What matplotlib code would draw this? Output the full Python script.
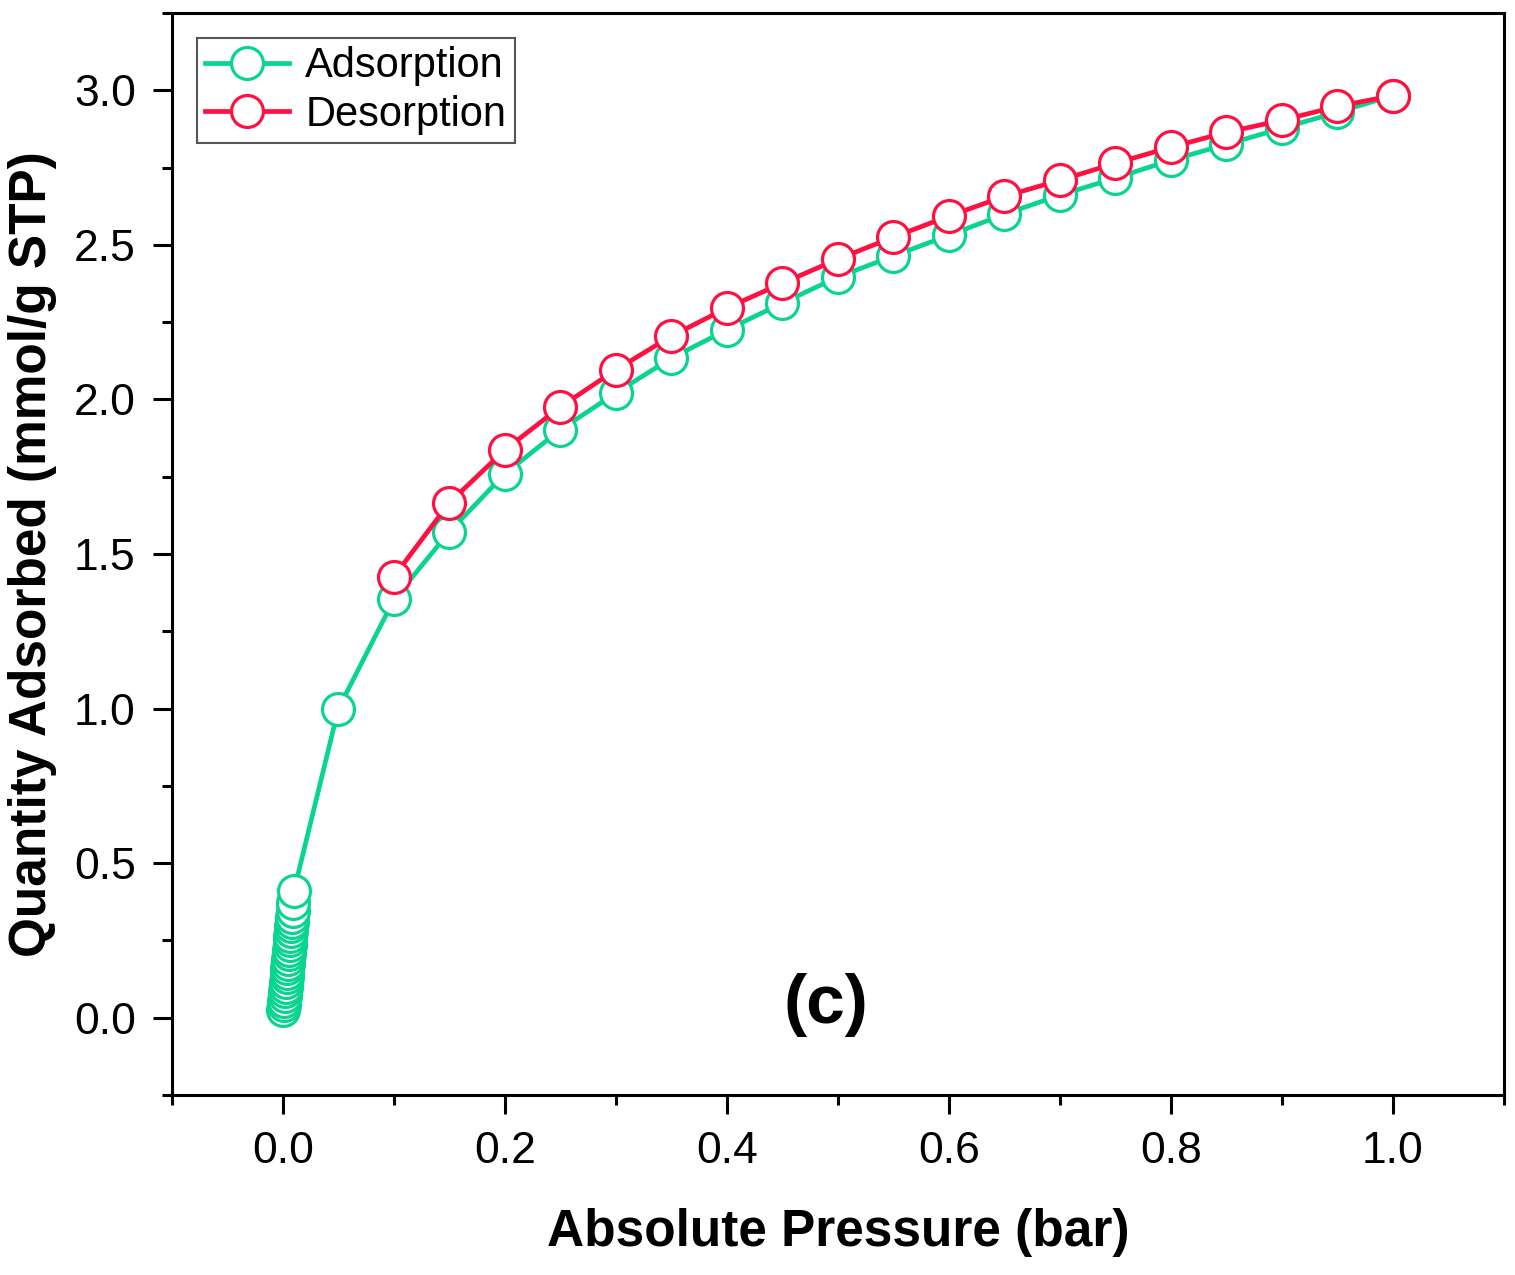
import matplotlib
matplotlib.use('Agg')
import matplotlib.pyplot as plt
from matplotlib.ticker import MultipleLocator, FormatStrFormatter

plt.rcParams['font.family'] = ['Liberation Sans', 'DejaVu Sans']

# adsorption branch: dense low-pressure points, then 0.05 bar steps
ads_p = [0.0004, 0.0008, 0.0012, 0.0016, 0.0020, 0.0024, 0.0028, 0.0032,
         0.0036, 0.0040, 0.0044, 0.0048, 0.0052, 0.0056, 0.0060, 0.0064,
         0.0068, 0.0072, 0.0076, 0.0080, 0.0084, 0.0088, 0.0092, 0.0099,
         0.05, 0.10, 0.15, 0.20, 0.25, 0.30, 0.35, 0.40, 0.45, 0.50,
         0.55, 0.60, 0.65, 0.70, 0.75, 0.80, 0.85, 0.90, 0.95, 1.00]
ads_q = [0.025, 0.040, 0.055, 0.070, 0.085, 0.100, 0.115, 0.130,
         0.145, 0.160, 0.175, 0.190, 0.205, 0.220, 0.235, 0.250,
         0.265, 0.280, 0.295, 0.310, 0.325, 0.345, 0.370, 0.410,
         1.00, 1.353, 1.572, 1.760, 1.902, 2.021, 2.134, 2.225, 2.312, 2.396,
         2.464, 2.531, 2.599, 2.661, 2.716, 2.774, 2.825, 2.877, 2.929, 2.983]

# desorption branch, from 1.0 bar down to 0.1 bar
des_p = [1.00, 0.95, 0.90, 0.85, 0.80, 0.75, 0.70, 0.65, 0.60, 0.55,
         0.50, 0.45, 0.40, 0.35, 0.30, 0.25, 0.20, 0.15, 0.10]
des_q = [2.983, 2.948, 2.903, 2.864, 2.816, 2.764, 2.709, 2.657, 2.593, 2.525,
         2.454, 2.376, 2.296, 2.205, 2.096, 1.976, 1.837, 1.666, 1.427]

green = '#0ad491'
red = '#ff1040'

fig = plt.figure(figsize=(15.15, 12.75), dpi=100)
ax = fig.add_axes([0.1135, 0.1412, 0.8792, 0.8486])

ax.plot(ads_p, ads_q, '-o', color=green, lw=3.4, ms=23, mfc='white',
        mec=green, mew=2.3, label='Adsorption')
ax.plot(des_p, des_q, '-o', color=red, lw=3.4, ms=23, mfc='white',
        mec=red, mew=2.3, label='Desorption')

ax.set_xlim(-0.1, 1.1)
ax.set_ylim(-0.25, 3.25)
ax.xaxis.set_major_locator(MultipleLocator(0.2))
ax.xaxis.set_minor_locator(MultipleLocator(0.1))
ax.yaxis.set_major_locator(MultipleLocator(0.5))
ax.yaxis.set_minor_locator(MultipleLocator(0.25))
ax.xaxis.set_major_formatter(FormatStrFormatter('%.1f'))
ax.yaxis.set_major_formatter(FormatStrFormatter('%.1f'))

for s in ax.spines.values():
    s.set_linewidth(2.2)
ax.tick_params(which='both', direction='out', width=2.2, top=False, right=False)
ax.tick_params(which='major', length=14, labelsize=32, pad=12)
ax.tick_params(which='minor', length=7)

ax.set_xlabel('Absolute Pressure (bar)', fontsize=37, fontweight='bold', labelpad=26)
ax.set_ylabel('Quantity Adsorbed (mmol/g STP)', fontsize=37, fontweight='bold', labelpad=12)

ax.text(0.489, 0.04, '(c)', fontsize=50, fontweight='bold', ha='center', va='center')

leg = ax.legend(loc='upper left', fontsize=30, fancybox=False, framealpha=1,
                edgecolor='#555555', handlelength=2.0, borderpad=0.2,
                labelspacing=0.2, handletextpad=0.4, borderaxespad=0.6)
leg.get_frame().set_linewidth(1.5)

fig.savefig('out.png', dpi=100)
